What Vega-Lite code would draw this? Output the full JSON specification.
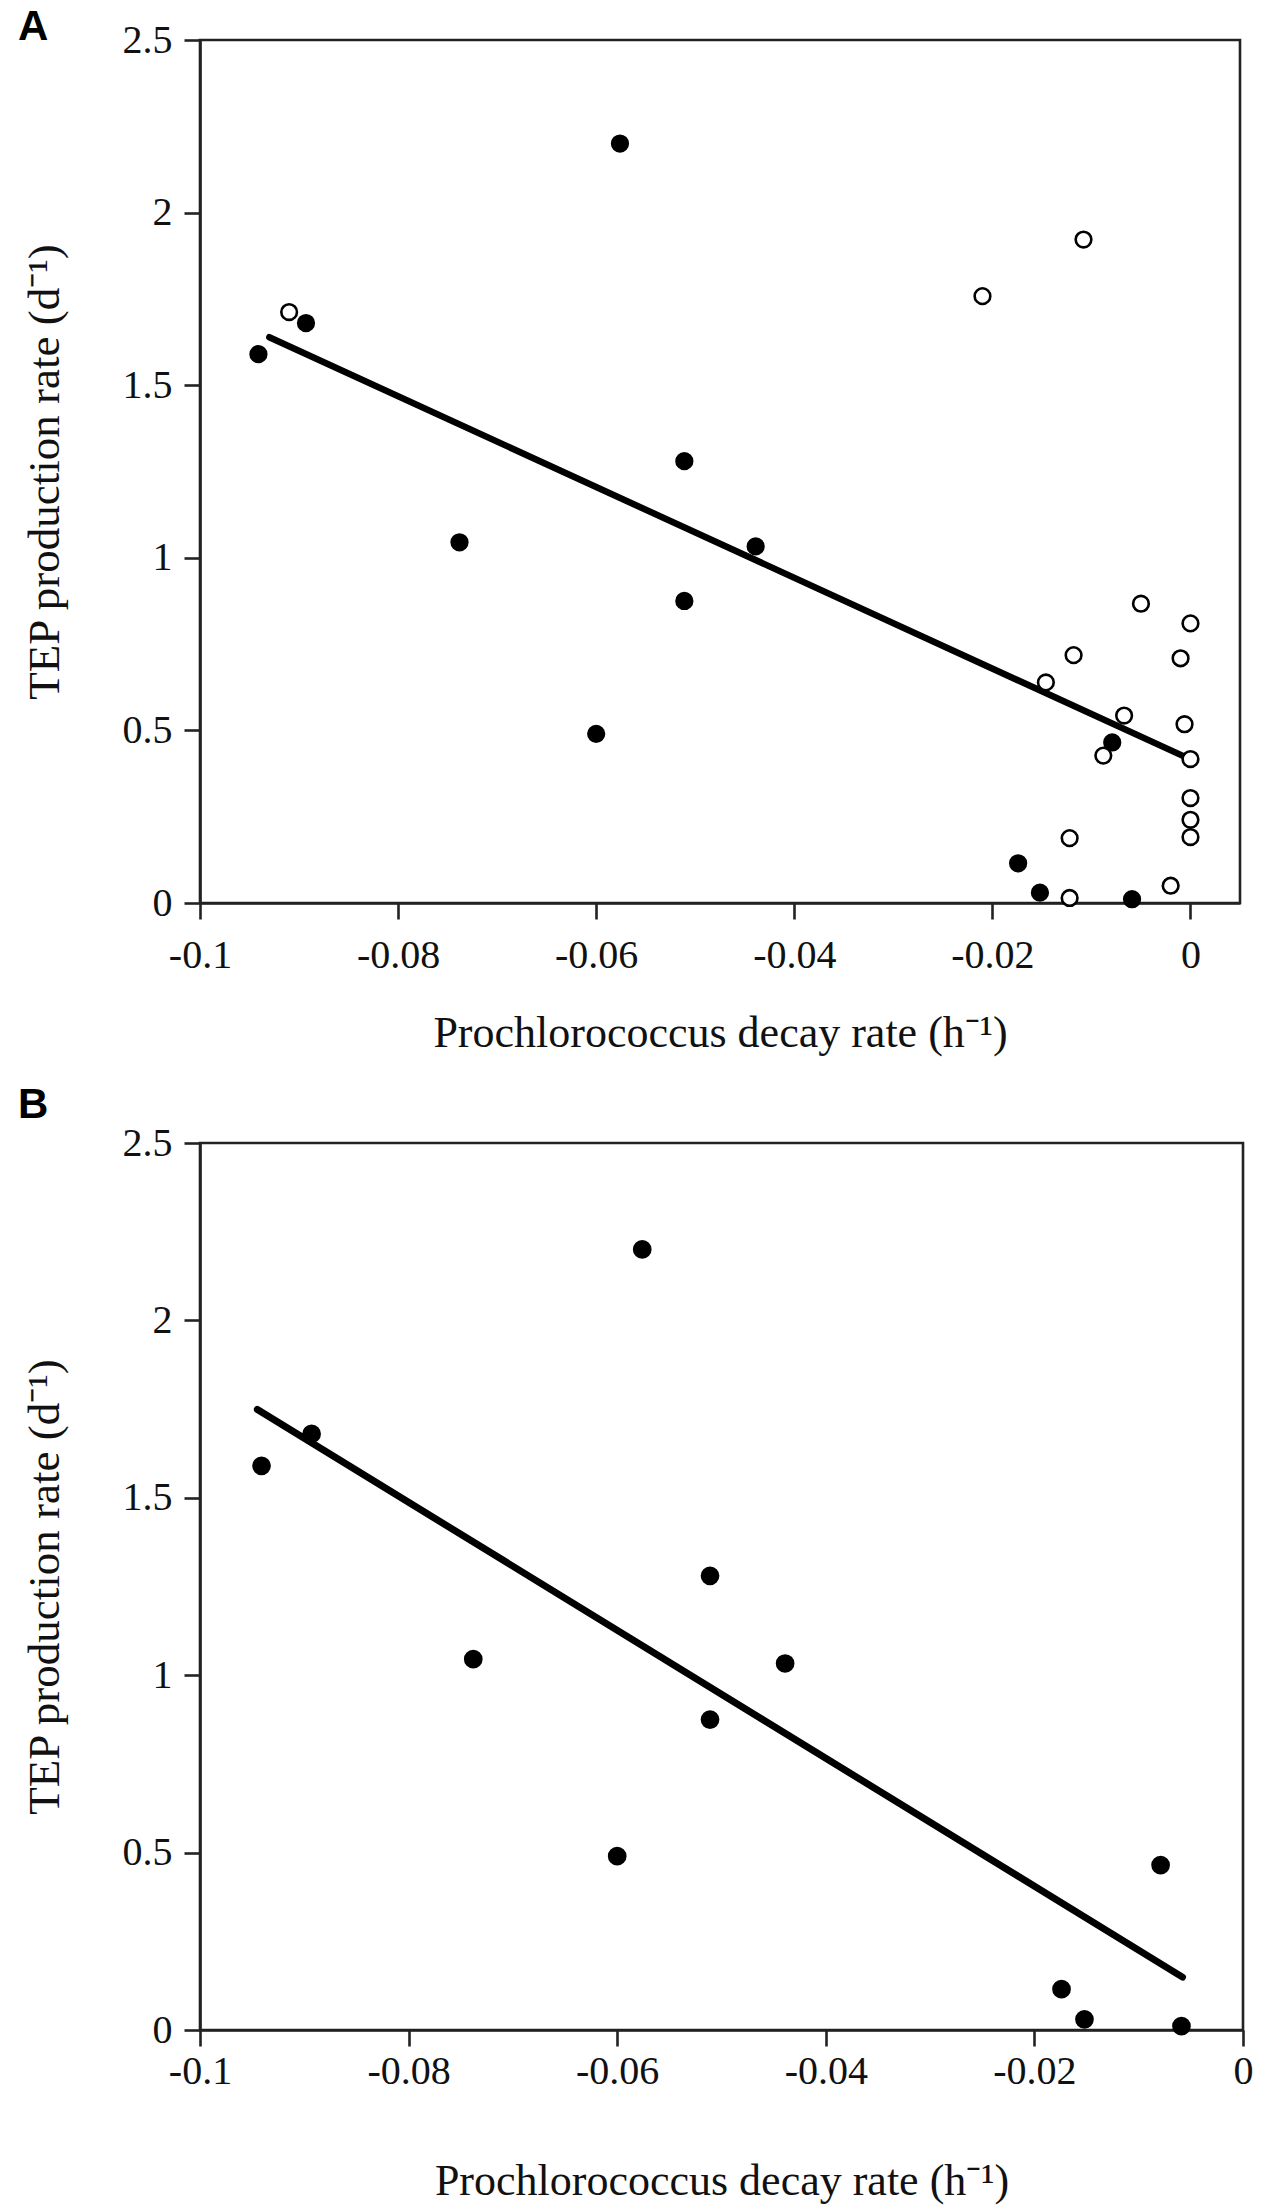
{
  "$schema": "https://vega.github.io/schema/vega-lite/v6.json",
  "background": "white",
  "padding": {"left": 16, "top": 4, "right": 5, "bottom": 5},
  "datasets": {
    "pts": [
      {"decay": -0.0941, "tep": 1.59, "group": "filled"},
      {"decay": -0.0893, "tep": 1.68, "group": "filled"},
      {"decay": -0.0738, "tep": 1.045, "group": "filled"},
      {"decay": -0.0600, "tep": 0.49, "group": "filled"},
      {"decay": -0.0576, "tep": 2.20, "group": "filled"},
      {"decay": -0.0511, "tep": 1.28, "group": "filled"},
      {"decay": -0.0511, "tep": 0.875, "group": "filled"},
      {"decay": -0.0439, "tep": 1.033, "group": "filled"},
      {"decay": -0.0174, "tep": 0.115, "group": "filled"},
      {"decay": -0.0152, "tep": 0.03, "group": "filled"},
      {"decay": -0.0079, "tep": 0.465, "group": "filled"},
      {"decay": -0.0059, "tep": 0.011, "group": "filled"},
      {"decay": -0.0910, "tep": 1.712, "group": "open"},
      {"decay": -0.0210, "tep": 1.758, "group": "open"},
      {"decay": -0.0108, "tep": 1.922, "group": "open"},
      {"decay": -0.0050, "tep": 0.867, "group": "open"},
      {"decay": 0.0, "tep": 0.81, "group": "open"},
      {"decay": -0.0118, "tep": 0.718, "group": "open"},
      {"decay": -0.0010, "tep": 0.709, "group": "open"},
      {"decay": -0.0146, "tep": 0.639, "group": "open"},
      {"decay": -0.0067, "tep": 0.543, "group": "open"},
      {"decay": -0.0006, "tep": 0.518, "group": "open"},
      {"decay": -0.0088, "tep": 0.427, "group": "open"},
      {"decay": 0.0, "tep": 0.417, "group": "open"},
      {"decay": 0.0, "tep": 0.304, "group": "open"},
      {"decay": 0.0, "tep": 0.241, "group": "open"},
      {"decay": 0.0, "tep": 0.191, "group": "open"},
      {"decay": -0.0122, "tep": 0.188, "group": "open"},
      {"decay": -0.0122, "tep": 0.0145, "group": "open"},
      {"decay": -0.0020, "tep": 0.05, "group": "open"}
    ],
    "fitA": [
      {"decay": -0.0930, "tep": 1.639},
      {"decay": -0.0006, "tep": 0.424}
    ],
    "fitB": [
      {"decay": -0.0945, "tep": 1.749},
      {"decay": -0.0058, "tep": 0.149}
    ]
  },
  "spacing": 25,
  "vconcat": [
    {
      "title": {"text": "A", "anchor": "start", "frame": "bounds", "offset": -29, "dx": -4},
      "width": 1040,
      "height": 863,
      "layer": [
        {
          "data": {"name": "fitA"},
          "mark": {"type": "line", "color": "black", "strokeWidth": 6.5, "strokeCap": "round"},
          "encoding": {
            "x": {"field": "decay", "type": "quantitative"},
            "y": {"field": "tep", "type": "quantitative"}
          }
        },
        {
          "data": {"name": "pts"},
          "mark": {"type": "point", "shape": "circle", "filled": true, "size": 245, "stroke": "black", "strokeWidth": 2.6, "opacity": 1},
          "encoding": {
            "x": {"field": "decay", "type": "quantitative"},
            "y": {"field": "tep", "type": "quantitative"},
            "fill": {"field": "group", "type": "nominal", "legend": null, "scale": {"domain": ["filled", "open"], "range": ["black", "white"]}}
          }
        }
      ],
      "encoding": {
        "x": {
          "field": "decay", "type": "quantitative",
          "scale": {"domain": [-0.1, 0.005], "nice": false, "zero": false},
          "axis": {"values": [-0.1, -0.08, -0.06, -0.04, -0.02, 0], "labelExpr": "'' + datum.value", "title": "Prochlorococcus decay rate (h⁻¹)", "labelPadding": 16, "titlePadding": 36}
        },
        "y": {
          "field": "tep", "type": "quantitative",
          "scale": {"domain": [0, 2.5], "nice": false},
          "axis": {"values": [0, 0.5, 1, 1.5, 2, 2.5], "labelExpr": "'' + datum.value", "title": "TEP production rate (d⁻¹)"}
        }
      }
    },
    {
      "title": {"text": "B", "anchor": "start", "frame": "bounds", "offset": -4, "dx": -4},
      "width": 1043,
      "height": 887,
      "layer": [
        {
          "data": {"name": "fitB"},
          "mark": {"type": "line", "color": "black", "strokeWidth": 7, "strokeCap": "round"},
          "encoding": {
            "x": {"field": "decay", "type": "quantitative"},
            "y": {"field": "tep", "type": "quantitative"}
          }
        },
        {
          "data": {"name": "pts"},
          "transform": [{"filter": "datum.group == 'filled'"}],
          "mark": {"type": "point", "shape": "circle", "filled": true, "size": 260, "stroke": "black", "strokeWidth": 2.6, "color": "black", "opacity": 1},
          "encoding": {
            "x": {"field": "decay", "type": "quantitative"},
            "y": {"field": "tep", "type": "quantitative"}
          }
        }
      ],
      "encoding": {
        "x": {
          "field": "decay", "type": "quantitative",
          "scale": {"domain": [-0.1, 0], "nice": false, "zero": false},
          "axis": {"values": [-0.1, -0.08, -0.06, -0.04, -0.02, 0], "labelExpr": "'' + datum.value", "title": "Prochlorococcus decay rate (h⁻¹)", "labelPadding": 5, "titlePadding": 68}
        },
        "y": {
          "field": "tep", "type": "quantitative",
          "scale": {"domain": [0, 2.5], "nice": false},
          "axis": {"values": [0, 0.5, 1, 1.5, 2, 2.5], "labelExpr": "'' + datum.value", "title": "TEP production rate (d⁻¹)"}
        }
      }
    }
  ],
  "config": {
    "font": "Liberation Serif",
    "view": {"stroke": "#222", "strokeWidth": 2.6},
    "title": {"font": "Liberation Sans", "fontSize": 42, "fontWeight": "bold", "color": "black"},
    "axis": {
      "grid": false,
      "domainColor": "#222",
      "domainWidth": 2.6,
      "tickColor": "#222",
      "tickWidth": 2.6,
      "tickSize": 16,
      "labelFont": "Liberation Serif",
      "labelFontSize": 40,
      "labelColor": "#111",
      "labelFlush": false,
      "labelOverlap": false,
      "titleFont": "Liberation Serif",
      "titleFontSize": 44,
      "titleFontWeight": "normal",
      "titleColor": "#111"
    },
    "axisY": {"labelPadding": 12, "titlePadding": 55, "titleFontSize": 45}
  }
}
